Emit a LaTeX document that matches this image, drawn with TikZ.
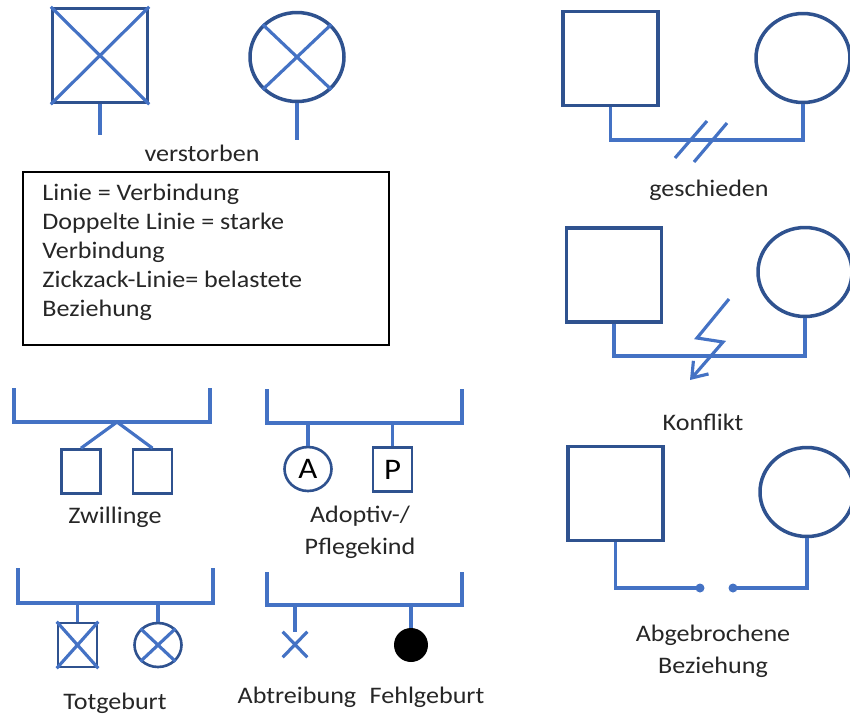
\documentclass[tikz,border=0pt]{standalone}
\usepackage{fontspec}
\setmainfont[FakeStretch=1.1]{Carlito}
\usepackage{tikz}
\usetikzlibrary{positioning,arrows.meta,shapes.geometric}
\definecolor{linie}{RGB}{68,114,196}
\definecolor{rand}{RGB}{47,82,143}
\definecolor{schrift}{RGB}{38,38,38}

\begin{document}
\begin{tikzpicture}[x=0.02cm, y=-0.02cm,
  mann/.style={draw=rand, line width=2pt, minimum width=1.9cm, minimum height=1.88cm, inner sep=0pt},
  frau/.style={ellipse, draw=rand, line width=2pt, minimum width=1.88cm, minimum height=1.78cm, inner sep=0pt},
  kindm/.style={draw=rand, line width=1.5pt, minimum width=0.78cm, minimum height=0.88cm, inner sep=0pt,
    font=\fontsize{17}{18}\selectfont, text=black},
  kindw/.style={ellipse, draw=rand, line width=1.5pt, minimum width=0.94cm, minimum height=0.88cm, inner sep=0pt,
    font=\fontsize{17}{18}\selectfont, text=black},
  verb/.style={draw=linie, line width=1.8pt},
  beschr/.style={text=schrift, font=\fontsize{13.5}{18}\selectfont, align=center, inner sep=0pt}]
  \useasboundingbox (0,0) rectangle (850,718);

  % verstorben
  \node[mann] (vm) at (100,55.5) {};
  \node[frau] (vf) at (297,57) {};
  \draw[verb] (vm.north west) -- (vm.south east) (vm.north east) -- (vm.south west);
  \draw[verb] (vf.north west) -- (vf.south east) (vf.north east) -- (vf.south west);
  \coordinate (vmende) at (100,135);
  \coordinate (vfende) at (297,140);
  \draw[verb] (vm.south) -- (vmende);
  \draw[verb] (vf.south) -- (vfende);
  \node[beschr] (vtxt) at (202,153) {verstorben};

  % Legende
  \draw[black, line width=1.2pt] (23,172) rectangle (389,345);
  \node[text=schrift, font=\fontsize{13.5}{16.4}\selectfont, align=left, anchor=north west, inner sep=0pt]
    (leg) at (42,184) {Linie = Verbindung\\Doppelte Linie = starke\\Verbindung\\Zickzack-Linie= belastete\\Beziehung};

  % geschieden
  \node[mann] (gm) at (610.5,58.5) {};
  \node[frau] (gf) at (803,58) {};
  \coordinate (gy) at (0,140);
  \draw[verb] (gm.south) -- (gm.south |- gy) -- (gf.south |- gy) -- (gf.south);
  \draw[verb] (675,158) -- (707,121) (694,162) -- (727,123);
  \node[beschr] (gtxt) at (709,190) {geschieden};

  % Konflikt
  \node[mann] (km) at (614,275) {};
  \node[frau] (kf) at (805,272) {};
  \coordinate (ky) at (0,356);
  \draw[verb] (km.south) -- (km.south |- ky) -- (kf.south |- ky) -- (kf.south);
  \draw[verb, -{Straight Barb[length=0.28cm, width=0.4cm]}] (729,299) -- (697,338) -- (723,342) -- (690,380);
  \node[beschr] (ktxt) at (703,422) {Konflikt};

  % Abgebrochene Beziehung
  \node[mann] (am) at (615.5,493.5) {};
  \node[frau] (af) at (807,492) {};
  \coordinate (a1) at (700,588);
  \coordinate (a2) at (733,588);
  \draw[verb] (am.south) |- (a1);
  \draw[verb] (a2) -| (af.south);
  \fill[linie] (a1) circle (0.09cm) (a2) circle (0.09cm);
  \node[beschr] (atxt) at (713,651) {Abgebrochene\\Beziehung};

  % Zwillinge
  \coordinate (z1) at (14,388);
  \coordinate (z2) at (210,388);
  \coordinate (zy) at (0,422);
  \coordinate (zs) at (117,422);
  \draw[verb] (z1) -- (z1 |- zy) -- (z2 |- zy) -- (z2);
  \node[kindm] (zk1) at (81,471.5) {};
  \node[kindm] (zk2) at (152.5,471.5) {};
  \draw[verb] (zk1.north) -- (zs) -- (zk2.north);
  \node[beschr] (ztxt) at (115,517) {Zwillinge};

  % Adoptiv-/Pflegekind
  \coordinate (p1) at (267,389);
  \coordinate (p2) at (462,389);
  \coordinate (py) at (0,423);
  \draw[verb] (p1) -- (p1 |- py) -- (p2 |- py) -- (p2);
  \node[kindw] (ka) at (308,469) {A};
  \node[kindm] (kp) at (392.5,469.5) {P};
  \draw[verb] (ka.north) -- (ka.north |- py);
  \draw[verb] (kp.north) -- (kp.north |- py);
  \node[beschr] (ptxt) at (360,532) {Adoptiv-/\\Pflegekind};

  % Totgeburt
  \coordinate (t1) at (18,568);
  \coordinate (t2) at (213,568);
  \coordinate (ty) at (0,603);
  \draw[verb] (t1) -- (t1 |- ty) -- (t2 |- ty) -- (t2);
  \node[kindm] (tk) at (77.5,645) {};
  \node[kindw] (tw) at (158,645) {};
  \draw[verb] (tk.north west) -- (tk.south east) (tk.north east) -- (tk.south west);
  \draw[verb] (tw.north west) -- (tw.south east) (tw.north east) -- (tw.south west);
  \draw[verb] (tk.north) -- (tk.north |- ty);
  \draw[verb] (tw.north) -- (tw.north |- ty);
  \node[beschr] (ttxt) at (115,703) {Totgeburt};

  % Abtreibung / Fehlgeburt
  \coordinate (f1) at (267,572);
  \coordinate (f2) at (462,572);
  \coordinate (fy) at (0,605);
  \draw[verb] (f1) -- (f1 |- fy) -- (f2 |- fy) -- (f2);
  \node[inner sep=0pt, minimum width=0.48cm, minimum height=0.5cm] (abt) at (295,644.5) {};
  \draw[verb] (abt.north west) -- (abt.south east) (abt.north east) -- (abt.south west);
  \draw[verb] (abt.north) -- (abt.north |- fy);
  \node[circle, fill=black, minimum size=0.68cm, inner sep=0pt] (fg) at (411,645) {};
  \draw[verb] (fg.north) -- (fg.north |- fy);
  \node[beschr] (abtxt) at (297,697) {Abtreibung};
  \node[beschr] (fgtxt) at (427,697) {Fehlgeburt};
\end{tikzpicture}
\end{document}
